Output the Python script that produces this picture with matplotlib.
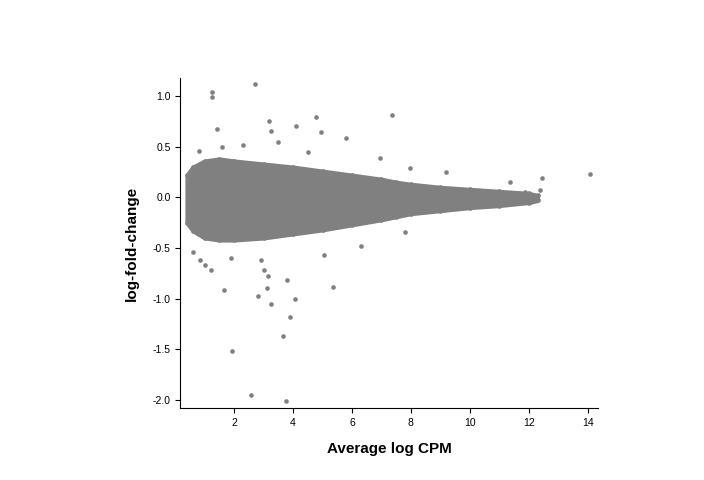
import matplotlib
matplotlib.use("Agg")
import matplotlib.pyplot as plt
plt.rcParams['font.family'] = ['Liberation Sans', 'DejaVu Sans']

# dense cloud envelope
env_x = [0.4, 0.6, 1.0, 1.5, 2.0, 3.0, 4.0, 5.0, 6.0, 7.0, 7.5, 8.0, 9.0, 10.0, 11.0, 12.0, 12.3]
env_hi = [0.22, 0.3, 0.36, 0.38, 0.36, 0.33, 0.3, 0.26, 0.22, 0.18, 0.15, 0.13, 0.1, 0.08, 0.06, 0.04, 0.02]
env_lo = [-0.25, -0.33, -0.4, -0.42, -0.42, -0.4, -0.36, -0.32, -0.27, -0.22, -0.19, -0.16, -0.13, -0.1, -0.08, -0.05, -0.03]

# isolated points
out_x = [1.25, 1.25, 2.71, 4.78, 7.36, 3.19, 4.10, 4.95, 3.25, 1.42, 5.8, 14.07, 12.44, 1.93, 2.58, 3.76,
         3.66, 3.9, 4.07, 3.25, 2.81, 3.8, 3.12, 1.66, 5.36, 3.02, 3.15, 0.61, 0.85, 1.02, 1.22, 5.05,
         7.8, 6.95, 7.97, 9.19, 12.37, 11.86, 10.92, 11.36, 1.6, 2.3, 0.8, 1.9, 2.9, 3.5, 4.5, 6.3]
out_y = [1.04, 0.99, 1.12, 0.79, 0.81, 0.76, 0.71, 0.65, 0.66, 0.68, 0.59, 0.23, 0.19, -1.52, -1.95, -2.01,
         -1.37, -1.18, -1.0, -1.05, -0.97, -0.82, -0.89, -0.91, -0.88, -0.72, -0.78, -0.54, -0.62, -0.67, -0.72, -0.57,
         -0.34, 0.39, 0.29, 0.25, 0.07, 0.05, -0.03, 0.15, 0.5, 0.52, 0.46, -0.6, -0.62, 0.55, 0.45, -0.48]

fig = plt.figure(figsize=(7.04, 4.8), dpi=100)
ax = fig.add_axes([0.256, 0.15, 0.593, 0.6875])
c = "#808080"
ax.fill_between(env_x, env_lo, env_hi, color=c, linewidth=3, edgecolor=c)
ax.scatter(env_x, env_hi, s=11, color=c, linewidths=0)
ax.scatter(env_x, env_lo, s=11, color=c, linewidths=0)
ax.scatter(out_x, out_y, s=11, color=c, linewidths=0)

ax.set_xlim(0.17, 14.34)
ax.set_ylim(-2.08, 1.18)
ax.set_xticks([2, 4, 6, 8, 10, 12, 14])
ax.set_yticks([-2.0, -1.5, -1.0, -0.5, 0.0, 0.5, 1.0])
ax.set_yticklabels(["-2.0", "-1.5", "-1.0", "-0.5", "0.0", "0.5", "1.0"])
ax.tick_params(labelsize=7.5)
for s in ["top", "right"]:
    ax.spines[s].set_visible(False)
ax.set_xlabel("Average log CPM", fontsize=11, fontweight="bold", labelpad=10)
ax.set_ylabel("log-fold-change", fontsize=11, fontweight="bold", labelpad=10)
fig.savefig("out.png", dpi=100)
